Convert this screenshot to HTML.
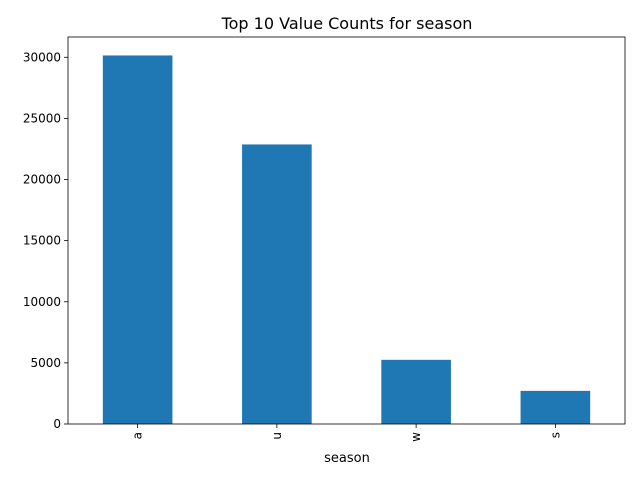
<!DOCTYPE html>
<html><head><meta charset="utf-8"><style>
body{margin:0;background:#fff;}
svg text{font-family:"DejaVu Sans","Liberation Sans",sans-serif;fill:#000;}
</style></head><body>
<svg id="chart" width="640" height="480" xmlns="http://www.w3.org/2000/svg">
<rect width="640" height="480" fill="#fff"/>
<text x="347" y="29" font-size="16" text-anchor="middle">Top 10 Value Counts for season</text>
<g id="plot"></g>
<text x="347" y="462" font-size="13" text-anchor="middle">season</text>
</svg>
<script>
const categories = ["a","u","w","s"];
const counts = [30150, 22870, 5250, 2710];
const yTicks = [0,5000,10000,15000,20000,25000,30000];

const L=68,R=625,T=37,B=424,yMax=31660;
const ns="http://www.w3.org/2000/svg";
const g=document.getElementById('plot');
const xs=i=>L+(i+0.5)*(R-L)/categories.length;
const ys=v=>B-v/yMax*(B-T);
const bw=0.5*(R-L)/categories.length;
function mk(t,a){const e=document.createElementNS(ns,t);for(const k in a)e.setAttribute(k,a[k]);g.appendChild(e);return e;}
categories.forEach((c,i)=>{
  const r=mk('rect',{x:xs(i)-bw/2,y:ys(counts[i]),width:bw,height:B-ys(counts[i]),fill:'#1f77b4'});
  
  
  const tk=mk('line',{x1:xs(i),x2:xs(i),y1:B,y2:B+4,stroke:'#000','stroke-width':0.8});
  
  
  const t=mk('text',{x:0,y:0,'font-size':12,'text-anchor':'end',transform:`translate(${xs(i)+4},${B+8}) rotate(-90)`});
  t.textContent=c;
  
  
});
yTicks.forEach(v=>{
  const tk=mk('line',{x1:L-4,x2:L,y1:ys(v),y2:ys(v),stroke:'#000','stroke-width':0.8});
  
  
  const t=mk('text',{x:L-7,y:ys(v)+4,'font-size':12,'text-anchor':'end'});
  t.textContent=v;
  
  
});
const f=mk('rect',{x:L,y:T,width:R-L,height:B-T,fill:'none',stroke:'#000','stroke-width':0.8});


</script>
</body></html>
